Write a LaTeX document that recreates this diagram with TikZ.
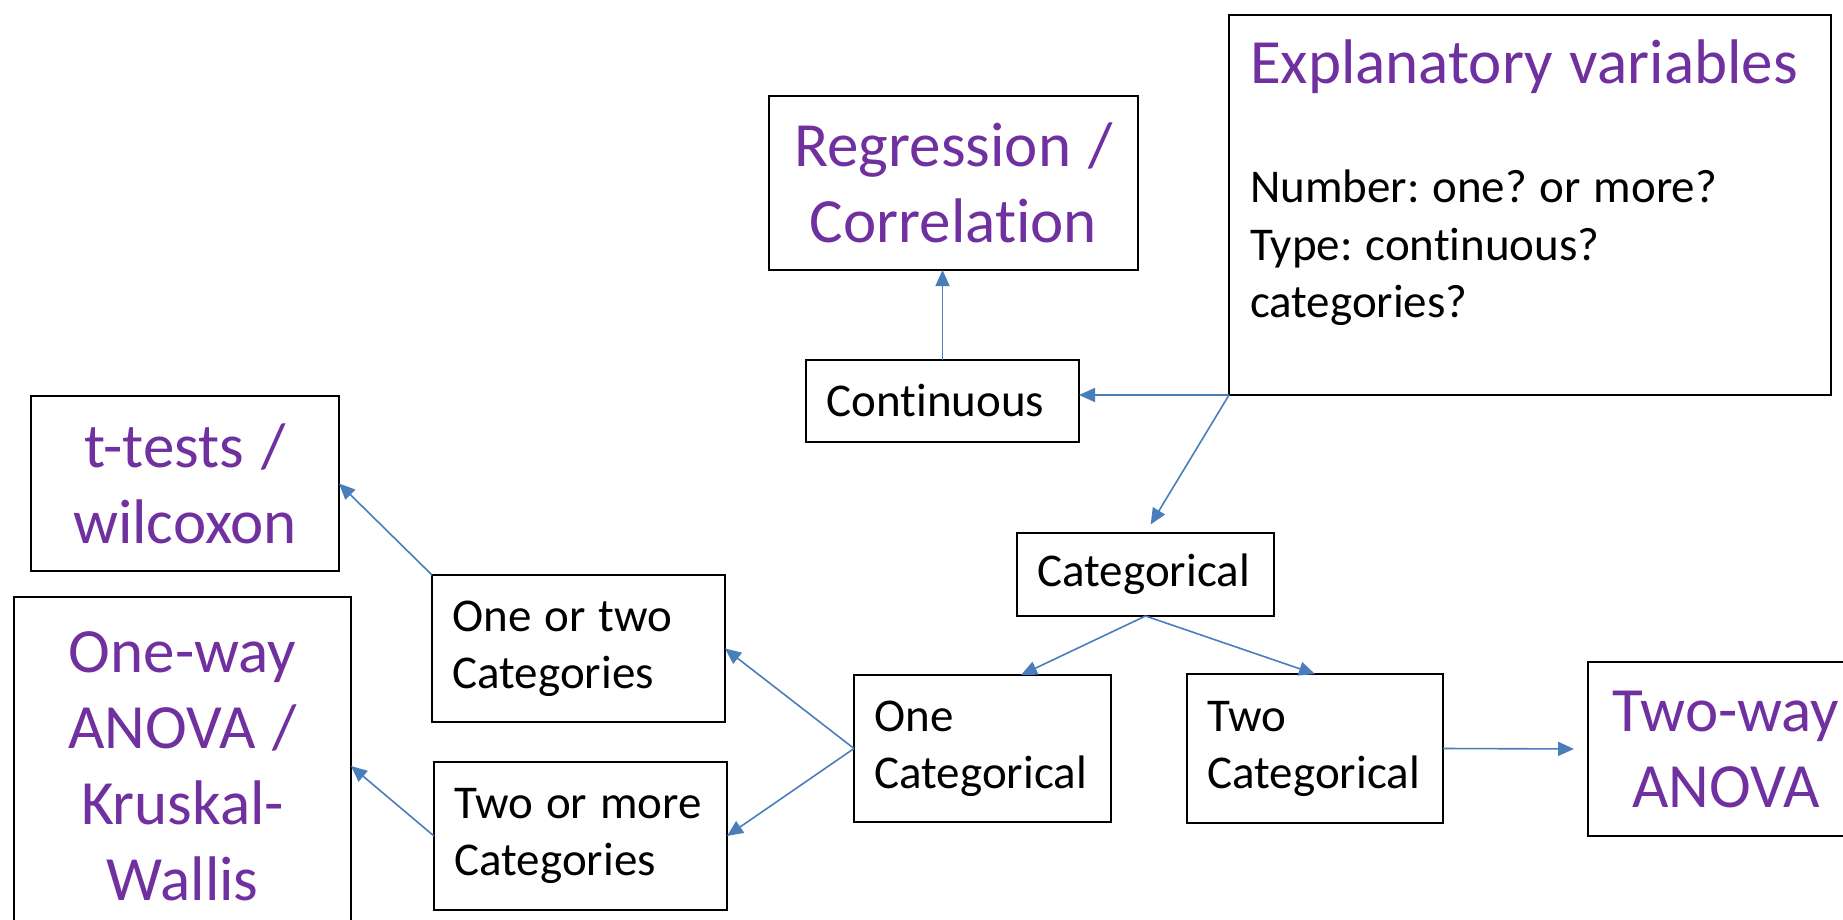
\documentclass[tikz,border=0pt]{standalone}
\usepackage{fontspec}
\setmainfont{Carlito}[Ligatures=NoCommon,WordSpace=1.2]
\frenchspacing
\usetikzlibrary{arrows.meta,calc}
\definecolor{titlepurple}{HTML}{7030A0}
\definecolor{lineblue}{HTML}{4A7EBB}
\tikzset{
  box/.style={draw=black, line width=1.8pt, inner ysep=0pt, outer sep=0pt, anchor=north west},
  ptext/.style={font=\fontsize{63}{76}\selectfont, text=titlepurple, align=center, inner xsep=0pt},
  btext/.style={font=\fontsize{47}{57}\selectfont, align=left, inner xsep=20.5pt,
    execute at begin node={\spaceskip=0pt\xspaceskip=0pt\relax}},
  plain/.style={inner sep=0pt, outer sep=0pt},
  conn/.style={draw=lineblue, line width=1.6pt, -{Triangle[length=16pt,width=14pt]}},
}
\begin{document}
\begin{tikzpicture}[x=1pt,y=-1pt]
\useasboundingbox (0,0) rectangle (1843,920);
\clip (0,0) rectangle (1843,920);
% purple result boxes
\node[box,ptext,minimum width=369pt,minimum height=174pt] (reg) at (769,96) {Regression /\\Correlation};
\node[box,ptext,minimum width=308pt,minimum height=175pt] (ttest) at (31,396) {t-tests /\\wilcoxon};
\node[box,ptext,minimum width=337pt,minimum height=338pt] (oneway) at (14,597) {One-way\\ANOVA /\\Kruskal-\\Wallis};
\node[box,ptext,minimum width=276pt,minimum height=174pt] (tway) at (1588,662) {Two-way\\ANOVA};
% explanatory box
\node[box,minimum width=602pt,minimum height=380pt] (expl) at (1229,15) {};
\node[plain,anchor=base west,font=\fontsize{63}{76}\selectfont,text=titlepurple] (expltitle) at (1250,84) {Explanatory variables};
\node[plain,anchor=base west,font=\fontsize{47}{57}\selectfont] (explA) at (1250,203) {Number: one? or more?};
\node[plain,anchor=base west,font=\fontsize{47}{57}\selectfont] (explB) at (1250,260) {Type: continuous?};
\node[plain,anchor=base west,font=\fontsize{47}{57}\selectfont] (explC) at (1250,317) {categories?};
% black boxes
\node[box,btext,text width=232pt,minimum height=82pt] (cont) at (806,360) {\mbox{Continuous}};
\node[box,btext,text width=216pt,minimum height=83pt] (cat) at (1017,533) {\mbox{Categorical}};
\node[box,btext,text width=216pt,minimum height=147pt] (one) at (854,675) {\mbox{One}\\\mbox{Categorical}};
\node[box,btext,text width=215pt,minimum height=149pt] (two) at (1187,674) {\mbox{Two}\\\mbox{Categorical}};
\node[box,btext,text width=252pt,minimum height=147pt] (ootc) at (432,575) {\mbox{One or two}\\\mbox{Categories}};
\node[box,btext,text width=252pt,minimum height=148pt] (tomc) at (434,762) {\mbox{Two or more}\\\mbox{Categories}};
% connectors
\draw[conn] (cont.north) -- (cont.north |- reg.south);
\draw[conn] (expl.south west) -- (cont.east |- expl.south west);
\draw[conn,shorten >=10pt] (expl.south west) -- (cat.north);
\draw[conn] (cat.south) -- ($(one.north west)!0.65!(one.north east)$);
\draw[conn] (cat.south) -- (two.north);
\draw[conn] (one.west) -- (ootc.east);
\draw[conn] (one.west) -- (tomc.east);
\draw[conn] (ootc.north west) -- (ttest.east);
\draw[conn] (tomc.west) -- (oneway.east);
\draw[conn,shorten >=14pt] (two.east) -- (tway.west);
\end{tikzpicture}
\end{document}
